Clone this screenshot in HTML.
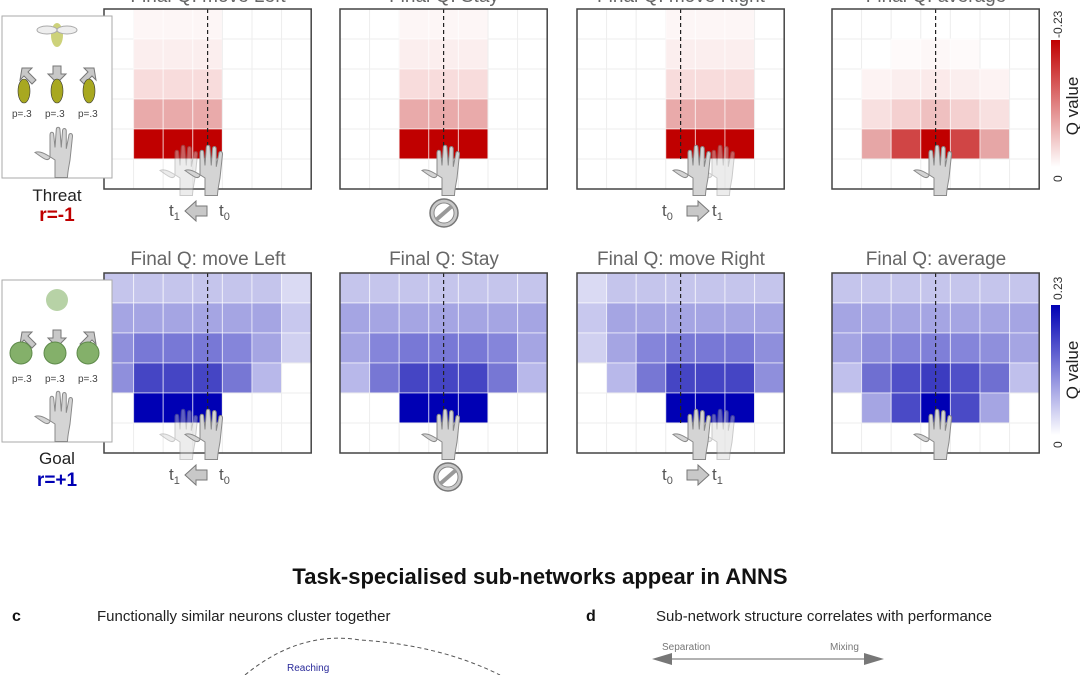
<!DOCTYPE html>
<html><head><meta charset="utf-8"><style>
html,body{margin:0;padding:0;background:#fff;width:1080px;height:675px;overflow:hidden}
svg{display:block;font-family:"Liberation Sans",Arial,sans-serif}
</style></head><body>
<svg id="s" width="1080" height="675" viewBox="0 0 1080 675" xmlns="http://www.w3.org/2000/svg">
<defs>
<linearGradient id="gr" x1="0" y1="1" x2="0" y2="0"><stop offset="0" stop-color="#fff"/><stop offset="1" stop-color="#c00000"/></linearGradient>
<linearGradient id="gb" x1="0" y1="1" x2="0" y2="0"><stop offset="0" stop-color="#fff"/><stop offset="1" stop-color="#0000b4"/></linearGradient>
<g id="hand0"><path d="M-4,22 L-4,8 C-10,4 -16,0 -20,2 C-14,6 -10,10 -8,6 L-8,-12 C-8,-15 -5,-15 -5,-12 L-4,-2 L-3,-16 C-3,-19 0,-19 0,-16 L1,-2 L2,-15 C2,-18 5,-18 5,-15 L5,-1 L7,-11 C7,-14 10,-14 10,-11 L8,8 C7,14 6,18 6,22 Z" fill="#d4d4d4" stroke="#8a8a8a" stroke-width="0.8"/></g>
<g id="hand"><use href="#hand0" transform="scale(1.25)"/></g>
<g id="nosign"><circle r="14" fill="#c8c8c8" stroke="#777" stroke-width="1.5"/><circle r="10" fill="#fff" stroke="#888" stroke-width="1"/><line x1="-8" y1="7" x2="8" y2="-7" stroke="#999" stroke-width="4"/></g>
</defs>
<g id="cells"></g>
<g font-size="19" fill="#666" text-anchor="middle">
<text x="208" y="2">Final Q: move Left</text><text x="444" y="2">Final Q: Stay</text><text x="681" y="2">Final Q: move Right</text><text x="936" y="2">Final Q: average</text>
<text x="208" y="265">Final Q: move Left</text><text x="444" y="265">Final Q: Stay</text><text x="681" y="265">Final Q: move Right</text><text x="936" y="265">Final Q: average</text>
</g>
<rect x="1051" y="40" width="9" height="127" fill="url(#gr)"/>
<rect x="1051" y="305" width="9" height="130" fill="url(#gb)"/>
<g font-size="12" fill="#333">
<text transform="translate(1062,38) rotate(-90)">-0.23</text>
<text transform="translate(1062,182) rotate(-90)">0</text>
<text transform="translate(1062,300) rotate(-90)">0.23</text>
<text transform="translate(1062,448) rotate(-90)">0</text>
</g>
<g font-size="17" fill="#222" text-anchor="middle">
<text transform="translate(1078,106) rotate(-90)">Q value</text>
<text transform="translate(1078,370) rotate(-90)">Q value</text>
</g>
<rect x="2" y="16" width="110" height="162" fill="#fff" stroke="#aaa"/>
<rect x="2" y="280" width="110" height="162" fill="#fff" stroke="#aaa"/>
<g font-size="10" fill="#444">
<text x="12" y="117">p=.3</text><text x="45" y="117">p=.3</text><text x="78" y="117">p=.3</text>
<text x="12" y="382">p=.3</text><text x="45" y="382">p=.3</text><text x="78" y="382">p=.3</text>
</g>
<g fill="#c8c8c8" stroke="#777">
<path d="M22,68 l10,0 -4,4 8,8 -4,4 -8,-8 -4,4z"/><path d="M53,66 h8 v8 h5 l-9,9 -9,-9 h5z"/><path d="M94,68 l-10,0 4,4 -8,8 4,4 8,-8 4,4z"/>
<path d="M22,332 l10,0 -4,4 8,8 -4,4 -8,-8 -4,4z"/><path d="M53,330 h8 v8 h5 l-9,9 -9,-9 h5z"/><path d="M94,332 l-10,0 4,4 -8,8 4,4 8,-8 4,4z"/>
</g>
<g>
<ellipse cx="57" cy="35" rx="6" ry="12" fill="#cdd27a"/><ellipse cx="47" cy="30" rx="10" ry="4" fill="#eee" stroke="#aaa"/><ellipse cx="67" cy="30" rx="10" ry="4" fill="#eee" stroke="#aaa"/>
<g fill="#a8a820" stroke="#333" stroke-width="0.6"><ellipse cx="24" cy="91" rx="6" ry="12"/><ellipse cx="57" cy="91" rx="6" ry="12"/><ellipse cx="89" cy="91" rx="6" ry="12"/></g>
<circle cx="57" cy="300" r="11" fill="#b7d2a6"/>
<g fill="#84b06a" stroke="#5e8a4a"><circle cx="21" cy="353" r="11"/><circle cx="55" cy="353" r="11"/><circle cx="88" cy="353" r="11"/></g>
</g>
<use href="#hand" x="60" y="150"/><use href="#hand" x="60" y="414"/>
<g font-size="17" text-anchor="middle">
<text x="57" y="201" fill="#222">Threat</text><text x="57" y="221" fill="#c00000" font-weight="bold" font-size="19">r=-1</text>
<text x="57" y="464" fill="#222">Goal</text><text x="57" y="486" fill="#0000b4" font-weight="bold" font-size="19">r=+1</text>
</g>
<g opacity="0.45"><use href="#hand" x="185" y="168"/><use href="#hand" x="185" y="432"/><use href="#hand" x="722" y="168"/><use href="#hand" x="722" y="432"/></g>
<use href="#hand" x="210" y="168"/><use href="#hand" x="210" y="432"/>
<use href="#hand" x="447" y="168"/><use href="#hand" x="447" y="432"/>
<use href="#hand" x="698" y="168"/><use href="#hand" x="698" y="432"/>
<use href="#hand" x="939" y="168"/><use href="#hand" x="939" y="432"/>
<g font-size="17" fill="#555">
<text x="169" y="216">t<tspan font-size="11" dy="4">1</tspan></text><text x="219" y="216">t<tspan font-size="11" dy="4">0</tspan></text>
<text x="169" y="480">t<tspan font-size="11" dy="4">1</tspan></text><text x="219" y="480">t<tspan font-size="11" dy="4">0</tspan></text>
<text x="662" y="216">t<tspan font-size="11" dy="4">0</tspan></text><text x="712" y="216">t<tspan font-size="11" dy="4">1</tspan></text>
<text x="662" y="480">t<tspan font-size="11" dy="4">0</tspan></text><text x="712" y="480">t<tspan font-size="11" dy="4">1</tspan></text>
</g>
<g fill="#c8c8c8" stroke="#777">
<path d="M185,211 l11,-10 v5 h11 v10 h-11 v5z"/><path d="M185,475 l11,-10 v5 h11 v10 h-11 v5z"/>
<path d="M709,211 l-11,-10 v5 h-11 v10 h11 v5z"/><path d="M709,475 l-11,-10 v5 h-11 v10 h11 v5z"/>
</g>
<use href="#nosign" x="444" y="213"/><use href="#nosign" x="448" y="477"/>
<text x="540" y="584" font-size="22" font-weight="bold" text-anchor="middle" fill="#111">Task-specialised sub-networks appear in ANNS</text>
<text x="12" y="621" font-size="16" font-weight="bold" fill="#111">c</text>
<text x="97" y="621" font-size="15" fill="#222">Functionally similar neurons cluster together</text>
<text x="586" y="621" font-size="16" font-weight="bold" fill="#111">d</text>
<text x="656" y="621" font-size="15" fill="#222">Sub-network structure correlates with performance</text>
<text x="662" y="650" font-size="10" fill="#777">Separation</text><text x="830" y="650" font-size="10" fill="#777">Mixing</text>
<line x1="665" y1="659" x2="870" y2="659" stroke="#999" stroke-width="1.5"/>
<path d="M652,659 l20,-6 v12z M884,659 l-20,-6 v12z" fill="#777"/>
<path d="M245,675 Q300,630 360,640 Q440,645 500,675" fill="none" stroke="#555" stroke-dasharray="4,3"/>
<text x="287" y="671" font-size="10" fill="#2a2a9a">Reaching</text>
</svg>
<script>
(function(){
var NS="http://www.w3.org/2000/svg",g=document.getElementById("cells");
var W=29.6,H=30,px=[104,340,577,832];
var L="#fdf6f6",M="#fbeeee",P="#f8dcdc",Q="#e9aaaa",D="#c00000";
var red=[];
function blk(cols,rows){var m=[];for(var r=0;r<6;r++){m.push([]);for(var c=0;c<7;c++)m[r].push(cols.indexOf(c)>=0?rows[r]:null);}return m;}
var rrows=[L,M,P,Q,D,null];
red.push(blk([1,2,3],rrows));red.push(blk([2,3,4],rrows));red.push(blk([3,4,5],rrows));
var av=[[null,null,null,null,null,null,null],[null,null,"#fefafa","#fdf7f7","#fefafa",null,null],[null,"#fdf3f3","#fbeeee","#fbeaea","#fbeeee","#fdf3f3",null],[null,"#f8e0e0","#f4d0d0","#efc0c0","#f4d0d0","#f8e0e0",null],[null,"#e6a6a6","#d04545",D,"#d04545","#e6a6a6",null],[null,null,null,null,null,null,null]];
red.push(av);
var a="#c5c5ec",b="#a5a5e3",X="#0000b4",w=null;
var bl=[[a,a,a,a,a,a,"#dadaf3"],[b,b,b,b,b,b,"#c8c8ee"],["#8f8fdc","#7878d6","#7878d6","#7878d6","#8585da",b,"#d0d0f0"],["#8f8fdc","#4545c4","#4545c4","#4545c4","#7777d4","#b8b8ea",w],[w,X,X,X,w,w,w],[w,w,w,w,w,w,w]];
var bs=[[a,a,a,a,a,a,a],[b,b,b,b,b,b,b],[b,"#8585da","#7878d6","#7878d6","#7878d6","#8585da",b],["#b8b8ea","#7777d4","#4545c4","#4545c4","#4545c4","#7777d4","#b8b8ea"],[w,w,X,X,X,w,w],[w,w,w,w,w,w,w]];
var br=bl.map(function(r){return r.slice().reverse();});
var ba=[[a,a,a,a,a,a,a],[b,b,b,b,b,b,b],[b,"#8f8fdc","#8585da","#7f7fd8","#8585da","#8f8fdc",b],["#c0c0ec","#6f6fd1","#5050c8","#3c3cc0","#5050c8","#6f6fd1","#c0c0ec"],[w,b,"#4a4ac6",X,"#4a4ac6",b,w],[w,w,w,w,w,w,w]];
var blue=[bl,bs,br,ba];
function draw(sets,y0){for(var p=0;p<4;p++){var x0=px[p],m=sets[p];
for(var r=0;r<6;r++)for(var c=0;c<7;c++){var f=m[r][c];var e=document.createElementNS(NS,"rect");
e.setAttribute("x",x0+c*W);e.setAttribute("y",y0+r*H);e.setAttribute("width",W);e.setAttribute("height",H);
e.setAttribute("fill",f||"#fff");e.setAttribute("stroke",f?"rgba(255,255,255,0.6)":"#eeeeee");e.setAttribute("stroke-width","1");g.appendChild(e);}
var d=document.createElementNS(NS,"line");d.setAttribute("x1",x0+3.5*W);d.setAttribute("x2",x0+3.5*W);d.setAttribute("y1",y0);d.setAttribute("y2",y0+150);d.setAttribute("stroke","#222");d.setAttribute("stroke-dasharray","4,3");d.setAttribute("stroke-width","1.2");g.appendChild(d);
var fr=document.createElementNS(NS,"rect");fr.setAttribute("x",x0);fr.setAttribute("y",y0);fr.setAttribute("width",7*W);fr.setAttribute("height",180);fr.setAttribute("fill","none");fr.setAttribute("stroke","#444");fr.setAttribute("stroke-width","1.5");g.appendChild(fr);}}
draw(red,9);draw(blue,273);
})();
</script>
</body></html>
